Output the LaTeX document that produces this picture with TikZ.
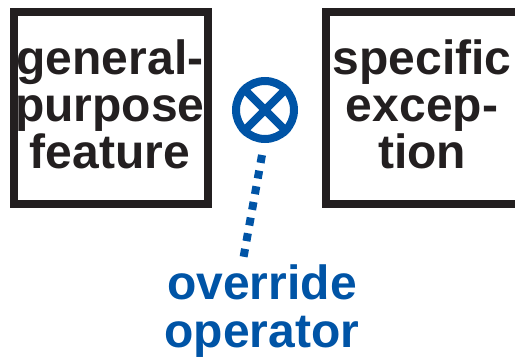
\documentclass[tikz,border=0pt]{standalone}
\usepackage{fontspec}
\setmainfont{Liberation Sans}
\definecolor{opblue}{RGB}{0,84,166}
\definecolor{ink}{RGB}{35,31,32}
\tikzset{
  box/.style={draw=ink,line width=8pt,minimum width=194pt,minimum height=192pt,inner sep=0pt},
  boxtext/.style={text=ink,font=\bfseries\fontsize{48}{47}\selectfont,align=center,inner sep=0pt},
  optext/.style={text=opblue,font=\bfseries\fontsize{48}{48}\selectfont,align=center,inner sep=0pt},
  oper/.style={circle,draw=opblue,line width=8pt,minimum size=58pt,inner sep=0pt},
  link/.style={draw=opblue,line width=8pt,dash pattern=on 8pt off 7.9pt}
}
\begin{document}
\begin{tikzpicture}[x=1pt,y=-1pt]
\useasboundingbox (0,0) rectangle (515,357);
\node[box] (g) at (111,108) {};
\node[box] (s) at (423,108) {};
\node[boxtext] (gt) at (110,104) {general-\\purpose\\feature};
\node[boxtext] (st) at (422,104) {specific\\excep-\\tion};
\node[oper] (o) at (265,110) {};
\draw[opblue,line width=8pt] (o.north west) -- (o.south east) (o.north east) -- (o.south west);
\node[optext] (ot) at (262,311) {override\\operator};
\coordinate (e) at (243.5,257.5);
\draw[link] (262,155) -- (e);
\end{tikzpicture}
\end{document}
